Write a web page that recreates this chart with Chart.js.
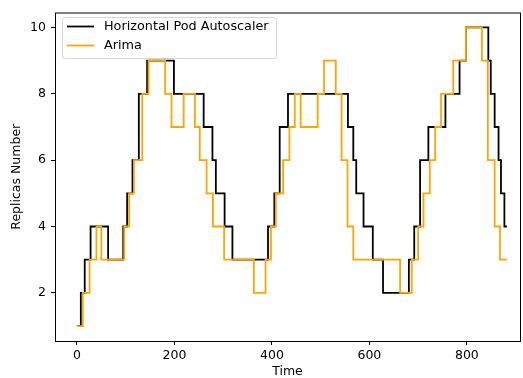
<!DOCTYPE html>
<html>
<head>
<meta charset="utf-8">
<script src="https://cdn.jsdelivr.net/npm/chart.js@4.4.1/dist/chart.umd.min.js"></script>
<style>
  html, body { margin: 0; padding: 0; background: #fff; }
  canvas { display: block; }
</style>
</head>
<body>
<canvas id="replicas" width="523" height="378"></canvas>
<script>
// Step series: time where each level starts (last entry closes the final level)
const hpaTimes  = [0, 8, 16, 28, 64, 95, 103, 114, 127, 144, 199, 260, 278, 285, 303, 319, 392, 405, 416, 433,
                   556, 567, 573, 588, 607, 628, 681, 692, 704, 721, 756, 785, 798, 844, 849, 857, 865, 870, 877, 882];
const hpaLevels = [1, 2, 3, 4, 3, 4, 5, 6, 8, 9, 8, 7, 6, 5, 4, 3, 4, 5, 7, 8,
                   7, 6, 5, 4, 3, 2, 3, 4, 6, 7, 8, 9, 10, 9, 8, 7, 6, 5, 4, 4];

const arimaTimes  = [0, 12, 26, 40, 50, 97, 107, 117, 134, 147, 181, 194, 219, 242, 252, 266, 279, 302, 363, 387,
                     398, 408, 423, 436, 447, 459, 494, 507, 531, 543, 555, 567, 663, 687, 700, 711, 724, 735, 747, 772,
                     798, 831, 843, 857, 868, 882];
const arimaLevels = [1, 2, 3, 4, 3, 4, 5, 6, 8, 9, 8, 7, 8, 7, 6, 5, 4, 3, 2, 3,
                     4, 5, 6, 7, 8, 7, 8, 9, 8, 6, 4, 3, 2, 3, 4, 5, 6, 7, 8, 9,
                     10, 9, 6, 4, 3, 3];

const xTicks = [0, 200, 400, 600, 800];
const yTicks = [2, 4, 6, 8, 10];

const seriesNames  = ['Horizontal Pod Autoscaler', 'Arima'];
const seriesColors = ['#000000', '#ffa500'];

const FONT = "'DejaVu Sans', sans-serif";

const toPoints = (times, levels) => times.map((t, i) => ({ x: t, y: levels[i] }));

// matplotlib-like frame and legend box
const frameLegend = {
  id: 'frameLegend',
  afterDatasetsDraw(chart) {
    const { ctx } = chart;
    ctx.save();
    // legend
    const bx = 62.5, by = 17.5, bw = 214, bh = 41, r = 3;
    ctx.globalAlpha = 0.8;
    ctx.fillStyle = '#ffffff';
    ctx.beginPath();
    ctx.roundRect(bx, by, bw, bh, r);
    ctx.fill();
    ctx.globalAlpha = 1;
    ctx.strokeStyle = '#d6d6d6';
    ctx.lineWidth = 1;
    ctx.stroke();

    ctx.font = `12.8px ${FONT}`;
    ctx.textBaseline = 'middle';
    ctx.textAlign = 'left';
    const rows = [26.5, 45.5];
    seriesNames.forEach((name, i) => {
      ctx.strokeStyle = seriesColors[i];
      ctx.lineWidth = 1.8;
      ctx.beginPath();
      ctx.moveTo(67, rows[i]);
      ctx.lineTo(94, rows[i]);
      ctx.stroke();
      ctx.fillStyle = '#000';
      ctx.fillText(name, 104, rows[i]);
    });
    ctx.restore();
  },
  afterDraw(chart) {
    const { ctx, chartArea: a } = chart;
    ctx.save();
    ctx.strokeStyle = '#000';
    ctx.lineWidth = 1;
    ctx.strokeRect(a.left + 0.5, a.top + 0.5, a.right - a.left, a.bottom - a.top);
    ctx.restore();
  }
};

const lineStyle = (color, order) => ({
  borderColor: color,
  backgroundColor: color,
  borderWidth: 1.8,
  pointRadius: 0,
  stepped: true,
  fill: false,
  order
});

new Chart(document.getElementById('replicas'), {
  type: 'line',
  data: {
    datasets: [
      { label: seriesNames[0], data: toPoints(hpaTimes, hpaLevels), ...lineStyle(seriesColors[0], 1) },
      { label: seriesNames[1], data: toPoints(arimaTimes, arimaLevels), ...lineStyle(seriesColors[1], 0) }
    ]
  },
  options: {
    responsive: false,
    animation: false,
    layout: { padding: { top: 12, right: 3, left: 0, bottom: 0 } },
    plugins: {
      legend: { display: false },
      tooltip: { enabled: false }
    },
    scales: {
      x: {
        type: 'linear',
        min: -45,
        max: 909,
        afterBuildTicks: s => { s.ticks = xTicks.map(v => ({ value: v })); },
        afterFit: s => { s.height = 37; },
        grid: { drawOnChartArea: false, drawTicks: true, tickLength: 4, tickColor: '#000' },
        border: { display: false },
        ticks: { color: '#000', padding: 3, maxRotation: 0, font: { family: FONT, size: 12.5 } },
        title: {
          display: true, text: 'Time', color: '#000',
          font: { family: FONT, size: 12.5, lineHeight: 1 },
          padding: { top: 0, bottom: 0 }
        }
      },
      y: {
        type: 'linear',
        min: 0.55,
        max: 10.45,
        afterBuildTicks: s => { s.ticks = yTicks.map(v => ({ value: v })); },
        afterFit: s => { s.width = 55; },
        grid: { drawOnChartArea: false, drawTicks: true, tickLength: 4, tickColor: '#000' },
        border: { display: false },
        ticks: { color: '#000', padding: 5, font: { family: FONT, size: 12.5 } },
        title: {
          display: true, text: 'Replicas Number', color: '#000',
          font: { family: FONT, size: 12.5, lineHeight: 1 },
          padding: { top: 10, bottom: 0 }
        }
      }
    }
  },
  plugins: [frameLegend]
});
</script>
</body>
</html>
